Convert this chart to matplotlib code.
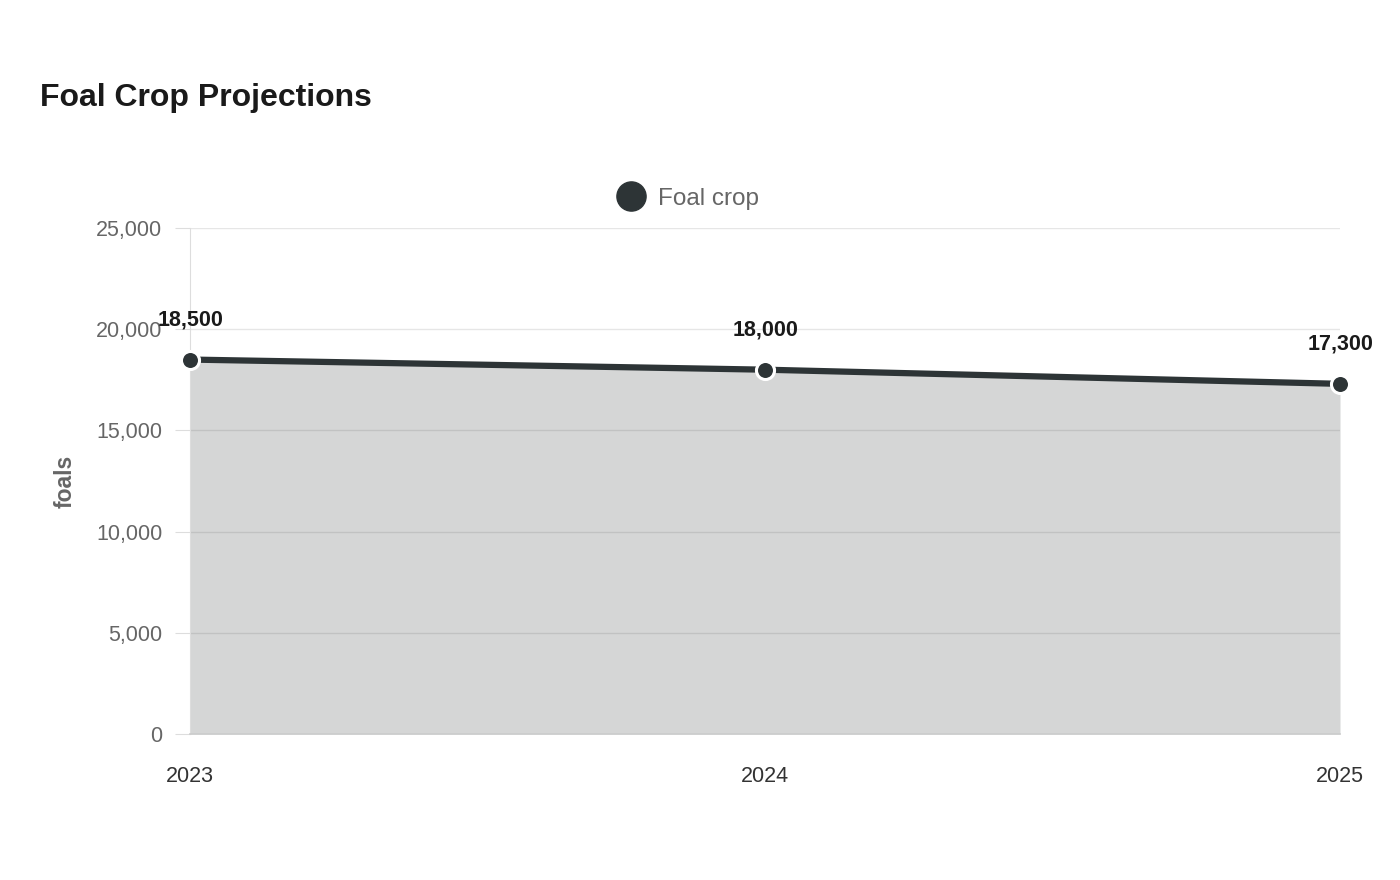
import matplotlib
matplotlib.use("Agg")
import matplotlib.pyplot as plt
from matplotlib.ticker import FuncFormatter
from matplotlib.lines import Line2D

plt.rcParams['font.family'] = ['Liberation Sans', 'DejaVu Sans']

years = ["2023", "2024", "2025"]
foal_crop = [18500, 18000, 17300]
y_ticks = [0, 5000, 10000, 15000, 20000, 25000]

line_color = "#2d3436"

fig = plt.figure(figsize=(14, 8.8), dpi=100)
ax = fig.add_axes([190/1400, 1-734/880, 1150/1400, 506/880])

x = list(range(len(years)))
ax.fill_between(x, foal_crop, 0, color=line_color, alpha=0.2, linewidth=0, zorder=2)
ax.plot(x, foal_crop, color=line_color, linewidth=4.5, zorder=3, solid_capstyle='butt')
ax.plot(x, foal_crop, linestyle='none', marker='o', markersize=13, markerfacecolor=line_color,
        markeredgecolor='white', markeredgewidth=2.2, zorder=4, clip_on=False)

for xi, v in zip(x, foal_crop):
    ax.annotate(f"{v:,}", (xi, v), xytext=(0.5, 21), textcoords='offset points',
                ha='center', va='bottom', fontsize=15.5, fontweight='bold', color='#1a1a1a',
                zorder=5, annotation_clip=False)

ax.set_xlim(0, len(years) - 1)
ax.set_ylim(0, 25000)
ax.set_yticks(y_ticks)
ax.yaxis.set_major_formatter(FuncFormatter(lambda v, p: f"{int(v):,}"))
ax.set_xticks(x)
ax.set_xticklabels(years)

ax.grid(axis='y', color='#e6e6e6', linewidth=1, zorder=1)
ax.set_axisbelow(True)
for s in ['top', 'right']:
    ax.spines[s].set_visible(False)
ax.spines['left'].set_color('#dddddd')
ax.spines['bottom'].set_color('#cccccc')
ax.spines['bottom'].set_linewidth(1.2)
ax.tick_params(axis='y', length=11, color='#dddddd', labelsize=15.5, labelcolor='#666666', pad=9)
ax.tick_params(axis='x', length=0, labelsize=15.5, labelcolor='#333333', pad=23)

ax.set_ylabel("foals", fontsize=16.5, fontweight='bold', color='#666666', labelpad=14)

fig.text(40/1400, 1-98/880, "Foal Crop Projections", fontsize=23, fontweight='bold',
         color='#1a1a1a', ha='left', va='center')

handle = Line2D([], [], linestyle='none', marker='o', markersize=21,
                markerfacecolor=line_color, markeredgecolor=line_color)
fig.legend([handle], ["Foal crop"], loc='center', bbox_to_anchor=(683/1400, 1-199/880),
           frameon=False, fontsize=17.5, labelcolor='#666666', handletextpad=0.1,
           borderaxespad=0)

fig.savefig("out.png", dpi=100, facecolor='white')
